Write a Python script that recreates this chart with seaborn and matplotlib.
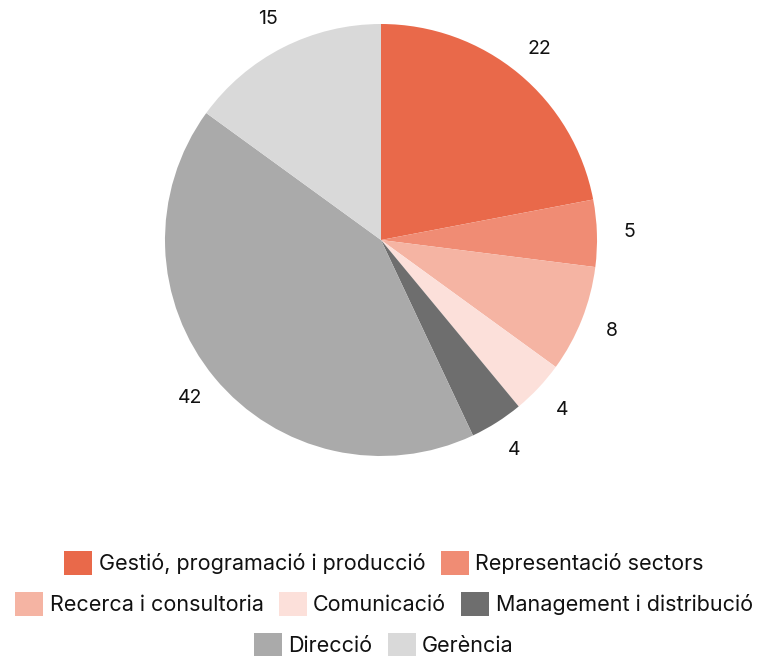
import matplotlib
matplotlib.use("Agg")
import matplotlib.pyplot as plt
import seaborn as sns
from matplotlib.patches import Patch

# Data
categories = ["Gestió, programació i producció", "Representació sectors",
              "Recerca i consultoria", "Comunicació", "Management i distribució",
              "Direcció", "Gerència"]
values = [22, 5, 8, 4, 4, 42, 15]
colors = ["#E9694A", "#F08C74", "#F5B4A3", "#FCE0DA", "#6E6E6E", "#AAAAAA", "#D9D9D9"]
legend_rows = [[0, 1], [2, 3, 4], [5, 6]]

sns.set_theme(style="white")
plt.rcParams["font.family"] = ["Inter", "DejaVu Sans"]
palette = sns.color_palette(colors)

fig = plt.figure(figsize=(7.57, 6.56), dpi=100)
cx, cy, r = 381 / 757, 1 - 240 / 656, 216
ax = fig.add_axes([cx - r / 757, cy - r / 656, 2 * r / 757, 2 * r / 656])

wedges, texts = ax.pie(
    values,
    colors=palette,
    labels=[str(v) for v in values],
    labeldistance=1.15,
    startangle=90,
    counterclock=False,
    wedgeprops={"linewidth": 0},
    textprops={"fontsize": 14, "color": "#111111"},
)
for t in texts:
    t.set_horizontalalignment("center")
    t.set_verticalalignment("center")
    t.set_clip_on(False)
ax.set_xlim(-1, 1)
ax.set_ylim(-1, 1)
ax.set_aspect("equal")
ax.axis("off")

# Legend in three centred rows
row_y = [563, 604, 645]
for idx, y in zip(legend_rows, row_y):
    handles = [Patch(facecolor=palette[i], edgecolor="none", label=categories[i]) for i in idx]
    fig.legend(
        handles=handles,
        loc="center",
        bbox_to_anchor=(384 / 757, 1 - y / 656),
        ncol=len(handles),
        frameon=False,
        fontsize=15.5,
        handlelength=1.3,
        handleheight=1.3,
        handletextpad=0.3,
        columnspacing=0.7,
        borderpad=0,
        labelcolor="#111111",
    )

fig.savefig("out.png", dpi=100)
